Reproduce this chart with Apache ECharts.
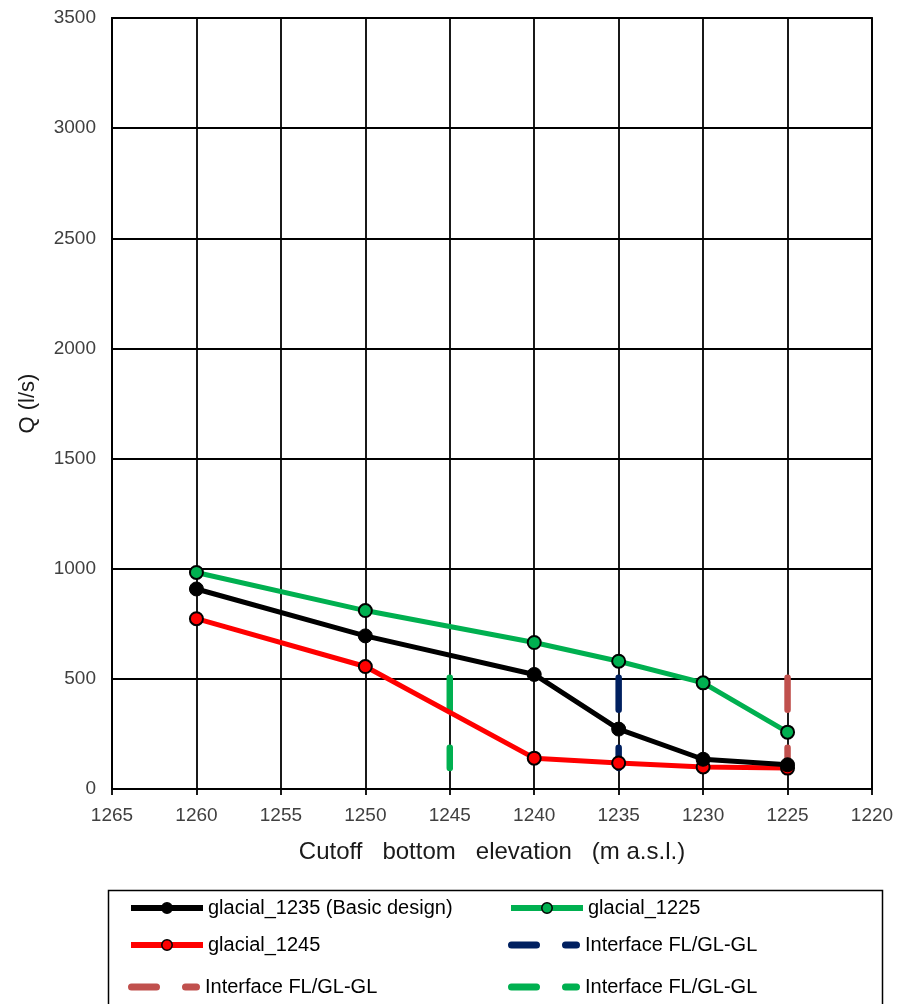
<!DOCTYPE html>
<html><head><meta charset="utf-8">
<script src="https://cdn.jsdelivr.net/npm/echarts@6/dist/echarts.min.js"></script>
<style>html,body{margin:0;padding:0;background:#fff}#c{width:900px;height:1004px}</style>
</head><body><div id="c"></div>
<script>
const elevations = [1260, 1250, 1240, 1235, 1230, 1225];
const glacial1235 = [908, 695, 520, 272, 135, 110];
const glacial1225 = [983, 810, 665, 580, 482, 258];
const glacial1245 = [773, 556, 140, 118, 100, 95];
const interfaceNavy = { x: 1235, from: 505, to: 95 };
const interfaceBrown = { x: 1225, from: 505, to: 95 };
const interfaceGreen = { x: 1245, from: 505, to: 95 };
const xTicks = { min: 1220, max: 1265, step: 5 };
const yTicks = { min: 0, max: 3500, step: 500 };

const pairs = v => elevations.map((e, i) => [e, v[i]]);
const vline = o => [[o.x, o.from], [o.x, o.to]];
const FONT = 'Liberation Sans, Arial, sans-serif';

const names = ['glacial_1235 (Basic design)', 'glacial_1225', 'glacial_1245',
  'Interface FL/GL-GL', 'Interface FL/GL-GL ', 'Interface FL/GL-GL  '];

const DASH_ICON = 'path://M3.5,0H28.5A3.5,3.5 0 0 1 28.5,7H3.5A3.5,3.5 0 0 1 3.5,0Z' +
  'M57.5,0H68.5A3.5,3.5 0 0 1 68.5,7H57.5A3.5,3.5 0 0 1 57.5,0Z';

function lineSeries(name, data, color, symSize, border) {
  return { name, type: 'line', data, symbol: 'circle', symbolSize: symSize,
    lineStyle: { color, width: 5 },
    itemStyle: { color, borderColor: '#000', borderWidth: border },
    z: 3 };
}
function dashSeries(name, data, color) {
  return { name, type: 'line', data, symbol: 'none',
    lineStyle: { color, width: 6.5, type: [32, 38], cap: 'round' },
    itemStyle: { color, borderWidth: 0 }, z: 2 };
}
function legLine(name, left, cy) {
  return { data: [name], left, top: cy - 11.5, itemWidth: 72, itemHeight: 13, padding: 0,
    selectedMode: false, formatter: n => n.trim(),
    lineStyle: { width: 6 }, itemStyle: { borderWidth: 1.5, borderColor: '#000' },
    textStyle: { fontFamily: FONT, fontSize: 20, color: '#000', lineHeight: 23 } };
}
function legDash(name, left, cy) {
  return { data: [{ name, icon: DASH_ICON }], left, top: cy - 11.5, itemWidth: 72, itemHeight: 7, padding: 0,
    selectedMode: false, formatter: n => n.trim(),
    itemStyle: { borderWidth: 0 },
    textStyle: { fontFamily: FONT, fontSize: 20, color: '#000', lineHeight: 23 } };
}
const chart = echarts.init(document.getElementById('c'));
chart.setOption({
  animation: false,
  grid: { left: 112, top: 18, width: 760, height: 771, show: true, borderColor: '#000', borderWidth: 1.8 },
  xAxis: { type: 'value', inverse: true, min: xTicks.min, max: xTicks.max, interval: xTicks.step,
    name: 'Cutoff   bottom   elevation   (m a.s.l.)', nameLocation: 'middle', nameGap: 51,
    nameTextStyle: { fontFamily: FONT, fontSize: 24, color: '#1a1a1a' },
    axisLine: { show: true, lineStyle: { color: '#000', width: 1.8 } },
    axisTick: { show: true, length: 6, lineStyle: { color: '#000', width: 1.8 } },
    axisLabel: { fontFamily: FONT, fontSize: 19, color: '#404040', margin: 17, formatter: v => String(v) },
    splitLine: { show: true, lineStyle: { color: '#000', width: 1.8 } } },
  yAxis: { type: 'value', min: yTicks.min, max: yTicks.max, interval: yTicks.step,
    name: 'Q (l/s)', nameLocation: 'middle', nameGap: 73, nameRotate: 90,
    nameTextStyle: { fontFamily: FONT, fontSize: 22, color: '#1a1a1a' },
    axisLine: { show: true, lineStyle: { color: '#000', width: 1.8 } },
    axisTick: { show: false },
    axisLabel: { fontFamily: FONT, fontSize: 19, color: '#404040', margin: 16, formatter: v => String(v) },
    splitLine: { show: true, lineStyle: { color: '#000', width: 1.8 } } },
  legend: [
    legLine(names[0], 128, 908),
    legLine(names[1], 508, 908),
    legLine(names[2], 128, 945),
    legDash(names[3], 508, 945),
    legDash(names[4], 128, 987),
    legDash(names[5], 508, 987)
  ],
  graphic: [{ type: 'rect', left: 106, top: 888, shape: { width: 774, height: 120 },
    style: { fill: 'none', stroke: '#000', lineWidth: 1.5 }, z: -1 }],
  series: [
    dashSeries(names[3], vline(interfaceNavy), '#002060'),
    dashSeries(names[4], vline(interfaceBrown), '#C0504D'),
    dashSeries(names[5], vline(interfaceGreen), '#00B050'),
    lineSeries(names[2], pairs(glacial1245), '#FF0000', 13, 2),
    lineSeries(names[0], pairs(glacial1235), '#000000', 14, 1),
    lineSeries(names[1], pairs(glacial1225), '#00B050', 13, 2)
  ]
});
</script></body></html>
